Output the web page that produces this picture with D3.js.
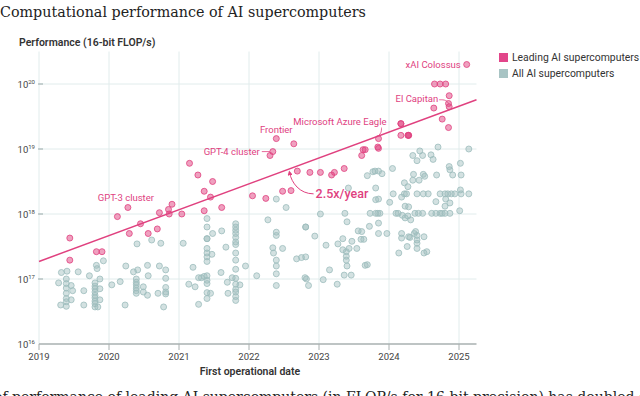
<!DOCTYPE html>
<html lang="en">
<head>
  <meta charset="UTF-8">
  <title>Computational performance of AI supercomputers</title>
  <script src="https://d3js.org/d3.v7.min.js"></script>
  <style>
    body { margin: 0; background: #fff; }
    svg { display: block; }
    .sans { font-family: Roboto, "Liberation Sans", sans-serif; }
    .serif { font-family: "DejaVu Serif", "Liberation Serif", serif; }
    .grid line { stroke: #e1ecec; stroke-width: 1; }
    .tick-label { fill: #444; font-size: 9.5px; }
    .note { fill: #e0417f; font-size: 9.5px; }
  </style>
</head>
<body>
<svg width="640" height="396"></svg>

<script>
  // [first operational date (decimal year), log10 of 16-bit FLOP/s]
  const leading = [
    [2019.44,17.63],[2019.44,17.29],[2019.82,17.42],[2019.90,17.42],[2020.12,17.96],[2020.27,18.10],
    [2020.29,17.70],[2020.45,17.85],[2020.56,17.70],[2020.69,17.77],[2020.72,18.02],[2020.85,18.07],
    [2020.90,18.15],[2020.86,18.00],[2021.04,18.00],[2021.15,18.78],[2021.27,18.60],[2021.48,18.50],
    [2021.36,18.35],[2021.45,18.26],[2021.36,18.05],[2021.61,18.10],[2022.05,18.28],[2022.24,18.24],
    [2022.30,18.90],[2022.34,18.96],[2022.39,19.16],[2022.64,19.08],[2022.48,18.35],[2022.60,18.36],
    [2022.69,18.66],[2022.87,18.64],[2023.02,18.64],[2023.18,18.60],[2023.22,18.64],[2023.36,18.70],
    [2023.61,18.90],[2023.63,18.99],[2023.66,18.99],[2023.84,19.03],[2023.85,19.01],[2023.85,19.16],
    [2024.17,19.39],[2024.17,19.39],[2024.17,19.21],[2024.27,19.21],[2024.28,19.21],[2024.28,19.21],
    [2024.64,19.63],[2024.76,19.46],[2024.85,19.33],[2024.86,19.82],[2024.85,19.70],[2024.86,19.65],
    [2024.65,20.00],[2024.73,20.00],[2024.81,20.00],[2025.11,20.30]
  ];

  const allSystems = [
    // 2019 - early 2020
    [2019.32,17.10],[2019.40,17.12],[2019.56,17.11],[2019.28,16.94],[2019.39,17.00],[2019.39,16.93],
    [2019.39,16.86],[2019.39,16.78],[2019.39,16.70],[2019.39,16.65],[2019.39,16.58],[2019.46,16.90],
    [2019.48,16.82],[2019.46,16.68],[2019.31,16.60],[2019.64,16.82],[2019.64,16.60],[2019.82,17.21],
    [2019.83,17.16],[2019.92,17.28],[2019.72,17.05],[2019.87,17.00],[2019.80,16.94],[2019.80,16.89],
    [2019.80,16.85],[2019.80,16.80],[2019.80,16.75],[2019.80,16.71],[2019.80,16.66],[2019.80,16.62],
    [2019.80,16.57],[2019.87,16.85],[2019.87,16.68],[2019.84,16.57],[2020.04,16.91],
    // 2020
    [2020.24,17.20],[2020.41,17.14],[2020.35,17.11],[2020.23,16.60],[2020.16,16.96],[2020.39,17.00],
    [2020.39,16.95],[2020.39,16.91],[2020.39,16.86],[2020.39,16.82],[2020.39,16.78],[2020.49,16.88],
    [2020.49,16.80],[2020.55,16.75],[2020.40,17.54],[2020.61,17.60],[2020.55,17.21],[2020.56,17.05],
    [2020.74,17.55],[2020.72,17.20],[2020.81,17.14],[2020.81,17.01],[2020.81,16.87],[2020.81,16.80],
    [2020.81,16.77],[2020.70,16.78],[2020.78,16.57],[2021.06,17.55],
    // 2021
    [2021.40,17.93],[2021.40,17.80],[2021.40,17.62],[2021.40,17.62],[2021.40,17.47],[2021.40,17.40],
    [2021.40,17.34],[2021.40,17.27],[2021.48,17.70],[2021.61,17.74],[2021.47,17.38],[2021.67,17.49],
    [2021.81,17.85],[2021.81,17.80],[2021.81,17.75],[2021.81,17.70],[2021.81,17.64],[2021.81,17.57],
    [2021.81,17.53],[2021.81,17.40],[2021.81,17.29],[2021.81,17.15],[2021.81,17.01],[2021.81,16.92],
    [2021.81,16.84],[2021.81,16.80],[2021.81,16.73],[2021.81,16.67],[2021.95,17.20],[2022.11,17.05],
    [2021.20,17.18],[2021.14,16.92],[2021.23,16.88],[2021.28,17.02],[2021.32,17.02],[2021.36,17.04],
    [2021.40,17.05],[2021.40,16.98],[2021.40,16.93],[2021.40,16.79],[2021.40,16.70],[2021.45,16.78],
    [2021.28,16.61],[2021.60,17.10],[2021.69,16.95],[2021.76,17.02],[2021.70,16.78],[2021.87,16.91],
    // 2022 - 2023
    [2022.39,18.23],[2022.53,18.10],[2022.27,17.91],[2022.34,17.48],[2022.35,17.40],[2022.48,17.47],
    [2022.39,17.72],[2022.39,17.67],[2022.39,17.29],[2022.39,17.20],[2022.39,17.08],[2022.39,16.90],
    [2022.68,17.31],[2022.75,17.33],[2022.81,17.34],[2022.81,17.80],[2022.81,17.80],[2022.94,17.66],
    [2023.02,18.00],[2023.10,17.52],[2022.80,17.02],[2022.82,17.00],[2022.85,16.90],[2023.06,16.99],
    [2023.15,17.14],[2023.26,16.92],[2023.27,17.54],[2023.34,17.62],[2023.36,17.06],[2023.46,17.06],
    [2023.37,18.01],[2023.40,17.88],[2023.42,18.40],[2023.34,17.45],[2023.39,17.42],[2023.39,17.35],
    [2023.39,17.29],[2023.40,17.20],[2023.43,17.47],[2023.47,17.58],[2023.54,17.47],[2023.56,17.74],
    [2023.61,17.73],[2023.64,17.61],[2023.60,17.61],[2023.66,17.21],[2023.72,17.81],[2023.69,17.22],
    // late 2023 - 2025
    [2023.69,18.59],[2023.77,18.65],[2023.80,18.66],[2023.85,18.66],[2023.90,18.62],[2023.81,18.40],
    [2023.73,18.01],[2023.81,18.01],[2023.84,18.01],[2023.87,18.01],[2023.81,18.22],[2023.85,18.23],
    [2023.85,17.86],[2023.85,17.70],[2023.97,17.70],[2024.01,18.18],[2024.05,18.70],[2024.06,18.31],
    [2024.10,18.01],[2024.13,18.01],[2024.19,17.98],[2024.23,17.94],[2024.27,17.97],[2024.31,17.91],
    [2024.18,18.26],[2024.22,18.31],[2024.25,18.31],[2024.22,18.48],[2024.27,18.42],[2024.18,17.70],
    [2024.18,17.63],[2024.28,17.65],[2024.30,17.64],[2024.26,17.50],[2024.14,17.40],[2024.36,17.70],
    [2024.38,17.73],[2024.40,17.67],[2024.40,17.60],[2024.40,17.55],[2024.40,17.47],[2024.50,17.65],
    [2024.50,17.40],[2024.54,17.42],[2024.23,18.12],[2024.28,18.11],[2024.34,18.90],[2024.44,18.97],
    [2024.48,18.90],[2024.40,18.82],[2024.60,18.91],[2024.63,18.84],[2024.70,19.03],[2025.14,19.00],
    [2024.86,18.73],[2024.87,18.68],[2025.02,18.78],[2025.03,18.60],[2024.91,18.60],[2024.35,18.61],
    [2024.34,18.52],[2024.49,18.61],[2024.51,18.58],[2024.68,18.60],[2024.43,18.52],[2024.40,18.31],
    [2024.49,18.31],[2024.56,18.31],[2024.73,18.31],[2024.80,18.31],[2024.84,18.31],[2024.89,18.31],
    [2024.94,18.31],[2025.02,18.37],[2025.03,18.31],[2025.14,18.31],[2024.67,18.19],[2024.81,18.23],
    [2024.80,18.12],[2024.87,18.17],[2024.87,18.01],[2024.37,18.01],[2024.42,18.01],[2024.48,18.01],
    [2024.61,18.01],[2024.67,18.01],[2024.73,18.01],[2024.76,18.01],[2024.80,18.01],[2025.01,18.05]
  ];

  const years = [2019, 2020, 2021, 2022, 2023, 2024, 2025];
  const exponents = [16, 17, 18, 19, 20];
  const trendStart = 2019, trendStartLog = 17.27, trendGrowth = 2.5, trendEnd = 2025.25;

  // labelled systems: [name, date, log10 FLOP/s]
  const labels = [
    ["xAI Colossus", 2025.11, 20.30],
    ["El Capitan", 2024.86, 19.65],
    ["Microsoft Azure Eagle", 2023.85, 19.16],
    ["Frontier", 2022.39, 19.16],
    ["GPT-4 cluster", 2022.34, 18.96],
    ["GPT-3 cluster", 2020.27, 18.10]
  ];

  const svg = d3.select("svg");
  const pink = "#e0417f", grey = "#9dbcbc";

  const x = d3.scaleLinear().domain([2019, 2025.25]).range([39, 476.5]);
  const y = d3.scaleLog().domain([1e16, Math.pow(10, 20.5)]).range([344, 51.5]);
  const py = v => y(Math.pow(10, v));

  // title
  svg.append("text").attr("class", "serif")
    .attr("x", 0).attr("y", 17)
    .style("font-size", "14.3px").style("fill", "#222")
    .text("Computational performance of AI supercomputers");

  svg.append("text").attr("class", "sans")
    .attr("x", 19).attr("y", 46)
    .style("font-size", "10.5px").style("font-weight", 600).style("fill", "#333")
    .text("Performance (16-bit FLOP/s)");

  // grid
  const grid = svg.append("g").attr("class", "grid");
  grid.selectAll("line.v").data(years).join("line").attr("class", "v")
    .attr("x1", d => x(d)).attr("x2", d => x(d))
    .attr("y1", y.range()[1]).attr("y2", y.range()[0]);
  grid.selectAll("line.h").data(exponents.slice(1)).join("line").attr("class", "h")
    .attr("x1", x.range()[0]).attr("x2", x.range()[1])
    .attr("y1", d => py(d)).attr("y2", d => py(d));

  // y ticks
  const yt = svg.append("g").attr("class", "sans");
  yt.selectAll("line").data(exponents.slice(1)).join("line")
    .attr("x1", 38).attr("x2", 43)
    .attr("y1", d => py(d)).attr("y2", d => py(d))
    .attr("stroke", "#9aa").attr("stroke-width", 1);
  const ylab = yt.selectAll("text").data(exponents).join("text")
    .attr("class", "tick-label")
    .attr("x", 35).attr("y", d => py(d) + 3.5)
    .attr("text-anchor", "end");
  ylab.append("tspan").text("10");
  ylab.append("tspan").attr("dy", -4).style("font-size", "6px").text(d => d);

  // x axis
  const xa = svg.append("g").attr("class", "sans");
  xa.append("line")
    .attr("x1", x.range()[0]).attr("x2", x.range()[1])
    .attr("y1", 344).attr("y2", 344)
    .attr("stroke", "#a9b0b0").attr("stroke-width", 1.5);
  xa.selectAll("line.t").data(years).join("line").attr("class", "t")
    .attr("x1", d => x(d)).attr("x2", d => x(d))
    .attr("y1", 344).attr("y2", 350)
    .attr("stroke", "#a9b0b0").attr("stroke-width", 1);
  xa.selectAll("text").data(years).join("text")
    .attr("class", "tick-label")
    .attr("x", d => x(d)).attr("y", 360)
    .attr("text-anchor", "middle")
    .text(d => d);
  xa.append("text")
    .attr("x", 250).attr("y", 375).attr("text-anchor", "middle")
    .style("font-size", "10.5px").style("font-weight", 600).style("fill", "#333")
    .text("First operational date");

  // all supercomputers
  svg.append("g").selectAll("circle").data(allSystems).join("circle")
    .attr("cx", d => x(d[0])).attr("cy", d => py(d[1])).attr("r", 3)
    .attr("fill", grey).attr("fill-opacity", 0.45)
    .attr("stroke", grey).attr("stroke-width", 0.8);

  // trend line
  const trend = [trendStart, trendEnd].map(t =>
    [x(t), py(trendStartLog + Math.log10(trendGrowth) * (t - trendStart))]);
  svg.append("path")
    .attr("d", d3.line()(trend))
    .attr("stroke", pink).attr("stroke-width", 1.5).attr("fill", "none");

  // leading supercomputers
  svg.append("g").selectAll("circle").data(leading).join("circle")
    .attr("cx", d => x(d[0])).attr("cy", d => py(d[1])).attr("r", 3)
    .attr("fill", pink).attr("fill-opacity", 0.5)
    .attr("stroke", pink).attr("stroke-width", 0.8);

  // annotations
  const ann = svg.append("g").attr("class", "sans");
  const place = {
    "xAI Colossus":          { dx: -6,  dy: 3.5, anchor: "end" },
    "El Capitan":            { dx: -11, dy: -5,  anchor: "end", lead: [[-10,-7],[-3,-7],[-0.5,-3]] },
    "Microsoft Azure Eagle": { dx: 8,   dy: -14, anchor: "end", lead: [[3,-11],[3,-6],[0,-3]] },
    "Frontier":              { dx: 0,   dy: -6,  anchor: "middle" },
    "GPT-4 cluster":         { dx: -13, dy: 3.5, anchor: "end", lead: [[-11,0],[-3,0]] },
    "GPT-3 cluster":         { dx: -2,  dy: -7,  anchor: "middle" }
  };
  labels.forEach(([name, t, v]) => {
    const p = place[name], cx = x(t), cy = py(v);
    ann.append("text").attr("class", "note")
      .attr("x", cx + p.dx).attr("y", cy + p.dy)
      .attr("text-anchor", p.anchor).text(name);
    if (p.lead) {
      ann.append("path")
        .attr("d", d3.line().curve(d3.curveBasis)(p.lead.map(q => [cx + q[0], cy + q[1]])))
        .attr("stroke", pink).attr("stroke-width", 0.8).attr("fill", "none");
    }
  });

  // growth-rate callout
  const at = 2022.58, atY = py(trendStartLog + Math.log10(trendGrowth) * (at - trendStart));
  svg.append("defs").append("marker")
    .attr("id", "head").attr("viewBox", "0 0 10 10").attr("refX", 5).attr("refY", 5)
    .attr("markerWidth", 5).attr("markerHeight", 5).attr("orient", "auto-start-reverse")
    .append("path").attr("d", "M0,0L10,5L0,10z").attr("fill", pink);
  svg.append("path")
    .attr("d", `M${x(at) + 24},${atY + 25} C${x(at) + 10},${atY + 25} ${x(at) + 2},${atY + 14} ${x(at)},${atY + 4}`)
    .attr("stroke", pink).attr("stroke-width", 1).attr("fill", "none")
    .attr("marker-end", "url(#head)");
  ann.append("text")
    .attr("x", x(at) + 26).attr("y", atY + 29.5)
    .style("font-size", "12.5px").style("font-weight", 500).style("fill", pink)
    .text("2.5x/year");

  // legend
  const leg = svg.append("g").attr("class", "sans");
  [["Leading AI supercomputers", "#e2468a"], ["All AI supercomputers", "#a8c4c4"]].forEach(([t, c], i) => {
    leg.append("rect").attr("x", 499).attr("y", 53 + i * 16).attr("width", 9).attr("height", 9).attr("fill", c);
    leg.append("text").attr("x", 512).attr("y", 61 + i * 16)
      .style("font-size", "10.4px").style("fill", "#333").text(t);
  });

  // caption (cut off by the frame, as in the source image)
  svg.append("text").attr("class", "serif")
    .attr("x", -6).attr("y", 402)
    .style("font-size", "14px").style("fill", "#222")
    .text("of performance of leading AI supercomputers (in FLOP/s for 16-bit precision) has doubled every 9 months");
</script>
</body>
</html>
